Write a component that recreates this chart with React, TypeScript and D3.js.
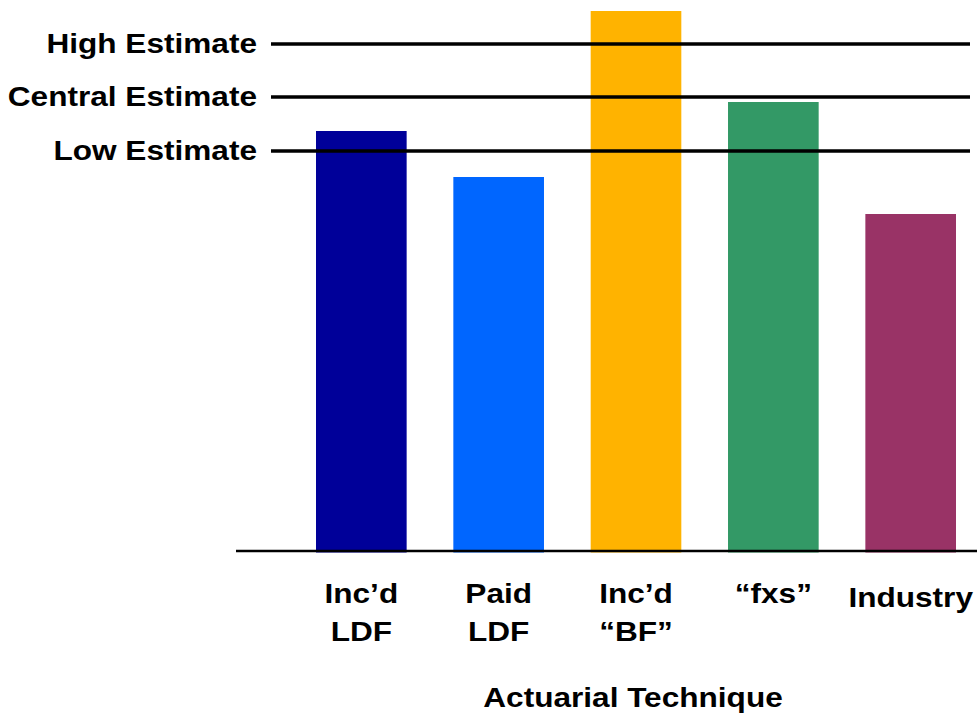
import React from "react";
import * as d3 from "d3";

// Reserve indications by actuarial technique, with the selected range
const categories: string[][] = [
  ["Inc\u2019d", "LDF"],
  ["Paid", "LDF"],
  ["Inc\u2019d", "\u201cBF\u201d"],
  ["\u201cfxs\u201d"],
  ["Industry"],
];
const values: number[] = [84, 74.8, 108, 89.8, 67.4];
const barColors: string[] = ["#000099", "#0066FF", "#FFB300", "#339966", "#993366"];

const estimateLabels: string[] = ["High Estimate", "Central Estimate", "Low Estimate"];
const estimateValues: number[] = [101.4, 90.8, 80];

const axisTitle = "Actuarial Technique";

const W = 977;
const H = 715;
const FONT = "'Liberation Sans', Arial, sans-serif";
const SX = 1.17;

function Label({ x, y, text, anchor = "middle" }: { x: number; y: number; text: string; anchor?: string }) {
  return (
    <g transform={`translate(${x},${y}) scale(${SX},1)`}>
      <text x={0} y={0} textAnchor={anchor} fontFamily={FONT} fontWeight="bold" fontSize={27} fill="#000">
        {text}
      </text>
    </g>
  );
}

export default function App() {
  const keys = categories.map((c) => c.join(" "));
  const x = d3.scaleBand<string>().domain(keys).range([316, 956]).paddingInner(0.34).paddingOuter(0);
  const y = d3.scaleLinear().domain([0, 100]).range([551, 51]);
  const bottom = y(0) + 1.5;

  return (
    <svg
      width={W}
      height={H}
      viewBox={`0 0 ${W} ${H}`}
      style={{ position: "absolute", left: 0, top: 0, background: "#fff" }}
    >
      {values.map((v, i) => (
        <rect
          key={keys[i]}
          x={x(keys[i])}
          y={y(v)}
          width={x.bandwidth()}
          height={bottom - y(v)}
          fill={barColors[i]}
        />
      ))}

      {estimateValues.map((v, i) => (
        <g key={estimateLabels[i]}>
          <line x1={271} x2={970} y1={y(v)} y2={y(v)} stroke="#000" strokeWidth={3.5} />
          <Label x={257} y={y(v) + 9} text={estimateLabels[i]} anchor="end" />
        </g>
      ))}

      <line x1={236} x2={W} y1={y(0)} y2={y(0)} stroke="#000" strokeWidth={2.5} />

      {categories.map((lines, i) => {
        const cx = (x(keys[i]) as number) + x.bandwidth() / 2;
        const single = lines.length === 1 && lines[0] === "Industry";
        return (
          <g key={keys[i]}>
            {lines.map((t, j) => (
              <Label key={j} x={cx} y={(single ? 607 : 603) + j * 38} text={t} />
            ))}
          </g>
        );
      })}

      <Label x={633} y={707} text={axisTitle} />
    </svg>
  );
}
